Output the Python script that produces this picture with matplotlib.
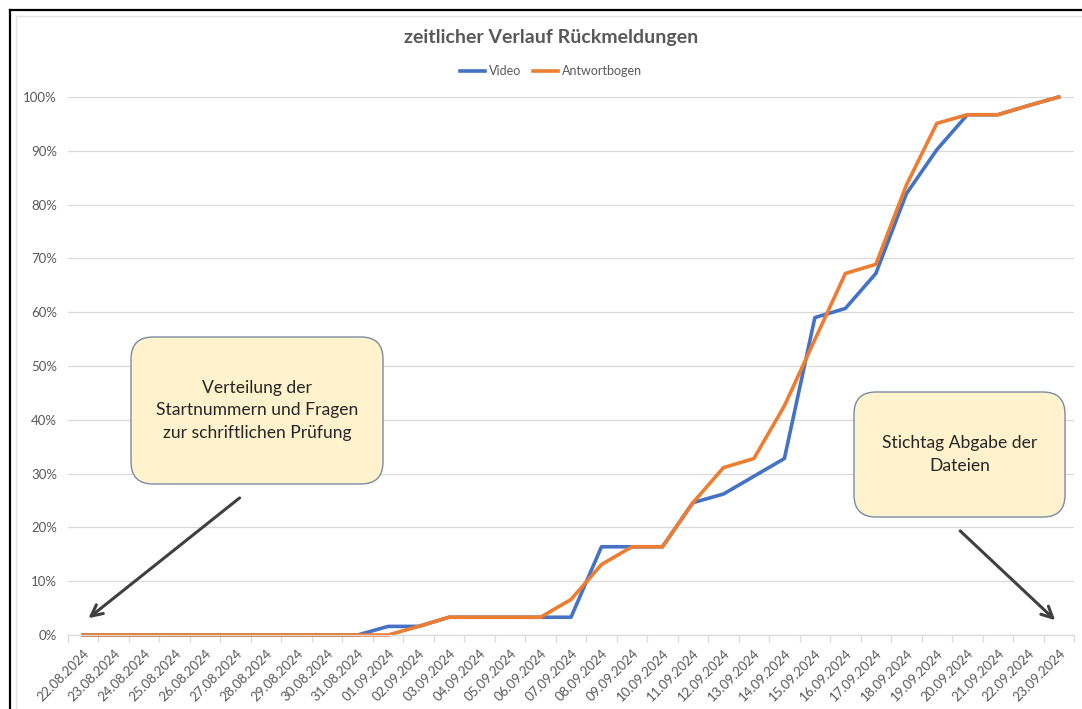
import matplotlib
matplotlib.use("Agg")
import matplotlib.pyplot as plt
from matplotlib.patches import FancyBboxPatch
from matplotlib.lines import Line2D
from matplotlib.ticker import PercentFormatter, FixedLocator

plt.rcParams['font.family'] = ['Lato', 'DejaVu Sans']

# Daten
dates = ['22.08.2024', '23.08.2024', '24.08.2024', '25.08.2024', '26.08.2024',
         '27.08.2024', '28.08.2024', '29.08.2024', '30.08.2024', '31.08.2024',
         '01.09.2024', '02.09.2024', '03.09.2024', '04.09.2024', '05.09.2024',
         '06.09.2024', '07.09.2024', '08.09.2024', '09.09.2024', '10.09.2024',
         '11.09.2024', '12.09.2024', '13.09.2024', '14.09.2024', '15.09.2024',
         '16.09.2024', '17.09.2024', '18.09.2024', '19.09.2024', '20.09.2024',
         '21.09.2024', '22.09.2024', '23.09.2024']
video = [0, 0, 0, 0, 0, 0, 0, 0, 0, 0,
         1.6, 1.6, 3.3, 3.3, 3.3, 3.3, 3.3, 16.4, 16.4, 16.4,
         24.6, 26.2, 29.5, 32.8, 59.0, 60.7, 67.2, 82.0, 90.2, 96.7,
         96.7, 98.4, 100]
antwortbogen = [0, 0, 0, 0, 0, 0, 0, 0, 0, 0,
                0, 1.6, 3.3, 3.3, 3.3, 3.3, 6.6, 13.1, 16.4, 16.4,
                24.6, 31.1, 32.8, 42.6, 54.9, 67.2, 68.9, 83.6, 95.1, 96.7,
                96.7, 98.4, 100]

W, H = 1082, 709
fig = plt.figure(figsize=(W / 100, H / 100), dpi=100)
ax = fig.add_axes([68 / W, 1 - 635 / H, (1074 - 68) / W, (635 - 97) / H])

x = list(range(len(dates)))
ax.plot(x, video, color='#4472C4', lw=2.6, label='Video', clip_on=False, solid_joinstyle='round')
ax.plot(x, antwortbogen, color='#ED7D31', lw=2.6, label='Antwortbogen', clip_on=False, solid_joinstyle='round')

ax.set_xlim(-0.5, len(dates) - 0.5)
ax.set_ylim(0, 100)
ax.set_yticks(range(0, 101, 10))
ax.yaxis.set_major_formatter(PercentFormatter(decimals=0))
ax.grid(axis='y', color='#D9D9D9', lw=0.9)
ax.set_axisbelow(True)
for s in ['top', 'right', 'left']:
    ax.spines[s].set_visible(False)
ax.spines['bottom'].set_color('#D9D9D9')
ax.spines['bottom'].set_linewidth(0.9)

ax.set_xticks(x)
ax.set_xticklabels(dates, rotation=45, ha='right', va='top', rotation_mode='anchor')
ax.xaxis.set_minor_locator(FixedLocator([i - 0.5 for i in range(len(dates) + 1)]))
ax.tick_params(axis='x', which='major', length=0, pad=9, labelsize=9.5, labelcolor='#595959')
ax.tick_params(axis='x', which='minor', length=5, color='#D9D9D9', width=0.9)
ax.tick_params(axis='y', length=0, pad=8, labelsize=9.5, labelcolor='#595959')

fig.text(551 / W, 1 - 38 / H, 'zeitlicher Verlauf Rückmeldungen', ha='center', va='center',
         fontsize=14, fontweight='bold', color='#595959')
fig.legend(loc='center', bbox_to_anchor=(551 / W, 1 - 71 / H), ncol=2, frameon=False,
           fontsize=9, handlelength=2.0, handletextpad=0.3, columnspacing=1.0,
           labelcolor='#595959')

# Rahmen
fig.add_artist(Line2D([10 / W, 10 / W], [0, 1 - 10 / H], color='black', lw=1.6))
fig.add_artist(Line2D([10 / W, 1], [1 - 10 / H, 1 - 10 / H], color='black', lw=1.6))
fig.add_artist(Line2D([16 / W, 16 / W], [0, 1 - 16 / H], color='#E3E3E3', lw=1.0))
fig.add_artist(Line2D([16 / W, 1], [1 - 16 / H, 1 - 16 / H], color='#E3E3E3', lw=1.0))

# Textfelder
def note(x0, y0, x1, y1, txt):
    r = 22 / W
    box = FancyBboxPatch((x0 / W + r, 1 - y1 / H + r * W / H), (x1 - x0) / W - 2 * r,
                         (y1 - y0) / H - 2 * r * W / H,
                         boxstyle=f'round,pad={r},rounding_size={r}', mutation_aspect=W / H,
                         transform=fig.transFigure, facecolor='#FFF2CC', edgecolor='#7A8BA3', lw=1.0)
    fig.add_artist(box)
    fig.text((x0 + x1) / 2 / W, 1 - (y0 + y1) / 2 / H, txt, ha='center', va='center',
             fontsize=12.6, color='#262626', linespacing=1.5)

note(131, 337, 383, 484, 'Verteilung der\nStartnummern und Fragen\nzur schriftlichen Prüfung')
note(854, 392, 1065, 517, 'Stichtag Abgabe der\nDateien')

arrow = dict(arrowstyle='->,head_length=0.8,head_width=0.4', color='#404040', lw=2.2)
ax.annotate('', xy=(0.1, 2.8), xytext=(5.2, 25.8), arrowprops=arrow)
ax.annotate('', xy=(31.95, 2.4), xytext=(28.7, 19.7), arrowprops=arrow)

fig.savefig('out.png', dpi=100)
